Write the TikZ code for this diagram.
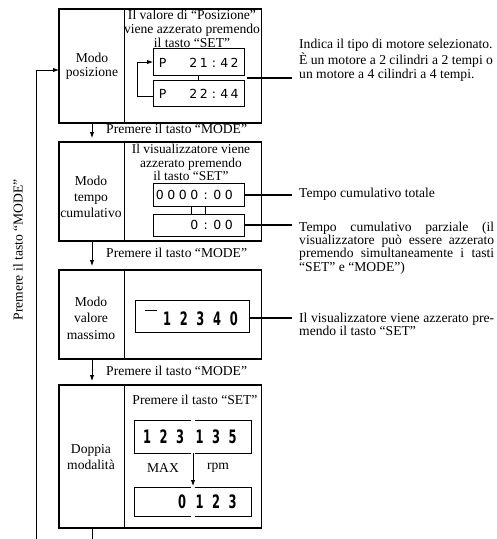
\documentclass[tikz,border=0pt]{standalone}
\usepackage{fontspec}
\setmainfont{Liberation Serif}
\newfontfamily\lcdfont{DejaVu Sans}
\newfontfamily\lcdbig[FakeStretch=0.62]{DejaVu Sans}
\usetikzlibrary{arrows.meta,calc}
\newcommand\lcd[2]{\def\lcdw{#1}\lcdloop#2\relax}
\def\lcdloop#1{\ifx\relax#1\else\makebox[\lcdw]{#1}\expandafter\lcdloop\fi}
\begin{document}
\begin{tikzpicture}[x=1pt,y=-1pt,
  txt/.style={inner sep=0pt, font=\fontsize{13.6}{13.6}\selectfont},
  boxst/.style={draw, line width=1.1pt, inner sep=0pt, outer sep=0pt, minimum width=202.5pt},
  divl/.style={line width=1.1pt},
  disp/.style={draw, line width=0.9pt, inner sep=0pt, outer sep=0pt},
  dispnb/.style={inner sep=0pt, outer sep=0pt},
  lcdS/.style={inner sep=0pt, anchor=east, font=\lcdfont\fontsize{12.5}{12.5}\selectfont},
  lcdB/.style={inner sep=0pt, font=\lcdbig\bfseries\fontsize{18.5}{18.5}\selectfont},
  arr/.style={line width=0.9pt, -{Latex[length=6pt,width=4.5pt]}},
  lead/.style={line width=2pt},
  thinl/.style={line width=0.9pt}]
\useasboundingbox (0,0) rectangle (497,539);

% ---- boxes
\node[boxst, minimum height=114pt] (box1) at (160.25,66) {};
\node[boxst, minimum height=99pt] (box2) at (160.25,191.5) {};
\node[boxst, minimum height=89pt] (box3) at (160.25,314.5) {};
\node[boxst, minimum height=143pt] (box4) at (160.25,456.5) {};
\foreach \b in {box1,box2,box3,box4}
  \draw[divl] ([xshift=65.5pt]\b.north west) -- ([xshift=65.5pt]\b.south west);

% ---- left labels
\node[txt, align=center, font=\fontsize{13.6}{13.8}\selectfont] (l1) at (92,66) {Modo\\posizione};
\node[txt, align=center, font=\fontsize{13.6}{15.7}\selectfont] (l2) at (91,197) {Modo\\tempo\\cumulativo};
\node[txt, align=center, font=\fontsize{13.6}{16.5}\selectfont] (l3) at (91,318) {Modo\\valore\\massimo};
\node[txt, align=center, font=\fontsize{13.6}{16.5}\selectfont] (l4) at (91,457) {Doppia\\modalità};

% ---- headers
\node[txt, align=center, font=\fontsize{13.6}{13.8}\selectfont] (h1) at (192,29) {Il valore di “Posizione”\\viene azzerato premendo\\il tasto “SET”};
\node[txt, align=center, font=\fontsize{13.4}{13.6}\selectfont] (h2) at (191,162.5) {Il visualizzatore viene\\azzerato premendo\\il tasto “SET”};
\node[txt] (h4) at (195,400) {Premere il tasto “SET”};

% ---- box 1 displays
\node[disp, minimum width=91pt, minimum height=26.5pt] (d1a) at (198.5,62) {};
\node[disp, minimum width=91pt, minimum height=26pt] (d1b) at (198.5,93) {};
\node[lcdS] (t1a) at ([xshift=-4pt,yshift=-1pt]d1a.east) {\lcd{10.3pt}{P~~21:42}};
\node[lcdS] (t1b) at ([xshift=-4pt,yshift=-1pt]d1b.east) {\lcd{10.3pt}{P~~22:44}};
\draw[thinl] (d1a.south) -- (d1b.north);
\draw[arr] ([yshift=-3pt]d1b.west) -- ++(-16,0) |- (d1a.west);

% ---- box 2 displays
\node[disp, minimum width=91pt, minimum height=23pt] (d2a) at (198.5,194.5) {};
\node[disp, minimum width=91pt, minimum height=22pt] (d2b) at (198.5,225) {};
\node[lcdS] (t2a) at ([xshift=-9.25pt]d2a.east) {\lcd{11.5pt}{0000:00}};
\node[lcdS] (t2b) at ([xshift=-9.25pt]d2b.east) {\lcd{11.5pt}{0:00}};
\draw[thinl] ([xshift=-7pt]d2a.south) -- ([xshift=-7pt]d2b.north);
\draw[thinl] ([xshift=7pt]d2a.south) -- ([xshift=7pt]d2b.north);

% ---- box 3 display
\node[disp, minimum width=114pt, minimum height=32pt] (d3) at (192,316) {};
\node[lcdB, anchor=east] (t3) at ([xshift=-6.6pt,yshift=-3pt]d3.east) {\lcd{16.7pt}{12340}};
\draw[line width=1.6pt] (145,310.5) -- (157,310.5);

% ---- box 4 displays
\node[dispnb, minimum width=117pt, minimum height=33pt] (d4a) at (192.5,436.5) {};
\node[dispnb, minimum width=117pt, minimum height=29pt] (d4b) at (192.5,501.5) {};
\foreach \d in {d4a,d4b}{
  \draw[thinl] ([xshift=-2pt]\d.north) -- (\d.north west) -- (\d.south west) -- ([xshift=-2pt]\d.south);
  \draw[thinl] ([xshift=2pt]\d.north) -- (\d.north east) -- (\d.south east) -- ([xshift=2pt]\d.south);
}
\node[lcdB] (t4al) at (163.5,437) {\lcd{16.5pt}{123}};
\node[lcdB] (t4ar) at (216,437) {\lcd{16.5pt}{135}};
\node[lcdB] (t4bl) at (182,502) {0};
\node[lcdB] (t4br) at (216,502) {\lcd{16.5pt}{123}};
\draw[arr] ([xshift=0.5pt]d4a.south) -- ([xshift=0.5pt,yshift=1pt]d4b.north);
\node[txt] (mx) at (163,468) {MAX};
\node[txt] (rpm) at (218,468) {rpm};

% ---- flow arrows
\draw[arr] ([xshift=33pt]box1.south west) -- ([xshift=33pt,yshift=4pt]box2.north west);
\draw[arr] ([xshift=33pt]box2.south west) -- ([xshift=33pt,yshift=4pt]box3.north west);
\draw[arr] ([xshift=33pt]box3.south west) -- ([xshift=33pt,yshift=4pt]box4.north west);
\node[txt, anchor=west] (m1) at (106,129) {Premere il tasto “MODE”};
\node[txt, anchor=west] (m2) at (106,253) {Premere il tasto “MODE”};
\node[txt, anchor=west] (m3) at (106,371) {Premere il tasto “MODE”};

\coordinate (bot4) at (92,539);
\draw[thinl] ([xshift=33pt]box4.south west) -- (bot4);
\coordinate (loopbot) at (36,539);
\draw[arr] (loopbot) |- ([yshift=-4pt]box1.west);
\node[txt, rotate=90] (lp) at (18,250) {Premere il tasto “MODE”};

% ---- right texts
\node[txt, anchor=base west, align=left, font=\fontsize{13.6}{13.5}\selectfont] (r1) at (299,78) {Indica il tipo di motore selezionato.\\È un motore a 2 cilindri a 2 tempi o\\un motore a 4 cilindri a 4 tempi.};
\node[txt, anchor=base west] (r2) at (299,197.5) {Tempo cumulativo totale};
\node[txt, anchor=base west, text width=195pt, align=justify, font=\fontsize{13.6}{13.4}\selectfont] (r3) at (299,231) {Tempo cumulativo parziale (il\linebreak visualizzatore può essere azzerato\linebreak premendo simultaneamente i tasti\linebreak “SET” e “MODE”)};
\node[txt, anchor=base west, text width=195pt, align=justify, font=\fontsize{13.6}{13.4}\selectfont] (r4) at (299,322) {Il visualizzatore viene azzerato pre-\linebreak mendo il tasto “SET”};

% ---- leader lines
\coordinate (s1) at ($(d1a.south east)!0.5!(d1b.north east)+(3,0)$);
\draw[lead] (s1) -- ($(s1 -| r1.west)+(-7,0)$);
\draw[lead] (d2a.east) -- ($(d2a.east -| r2.west)+(-7,0)$);
\draw[lead] (d2b.east) -- ($(d2b.east -| r3.west)+(-7,0)$);
\draw[lead] ([yshift=-2pt]d3.east) -- ($([yshift=-2pt]d3.east -| r4.west)+(-7,0)$);
\end{tikzpicture}
\end{document}
